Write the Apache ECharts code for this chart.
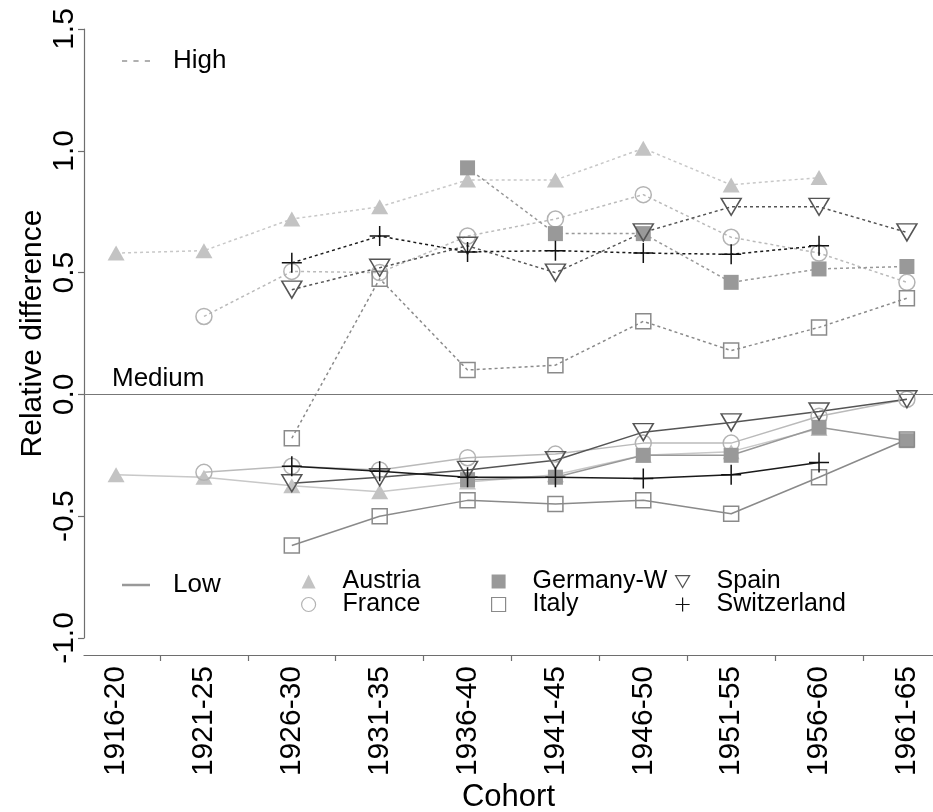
<!DOCTYPE html>
<html>
<head>
<meta charset="utf-8">
<script src="https://cdn.jsdelivr.net/npm/echarts@6/dist/echarts.min.js"></script>
<style>
  html, body { margin: 0; padding: 0; background: #fff; }
  #chart { width: 933px; height: 812px; }
</style>
</head>
<body>
<div id="chart"></div>
<script>
// Birth cohorts (x axis) and y tick values
const cohorts = ['1916-20', '1921-25', '1926-30', '1931-35', '1936-40', '1941-45', '1946-50', '1951-55', '1956-60', '1961-65'];
const yTicks = [-1.0, -0.5, 0.0, 0.5, 1.0, 1.5];

// High education group: relative difference to medium (dotted lines)
const highAustria     = [0.58, 0.59, 0.72, 0.77, 0.88, 0.88, 1.01, 0.86, 0.89, null];
const highFrance      = [null, 0.32, 0.505, 0.50, 0.65, 0.72, 0.82, 0.645, 0.58, 0.46];
const highGermanyW    = [null, null, null, null, 0.93, 0.66, 0.66, 0.46, 0.515, 0.525];
const highItaly       = [null, null, -0.18, 0.475, 0.10, 0.12, 0.30, 0.18, 0.275, 0.395];
const highSpain       = [null, null, 0.43, 0.52, 0.61, 0.50, 0.665, 0.77, 0.77, 0.665];
const highSwitzerland = [null, null, 0.54, 0.65, 0.585, 0.59, 0.58, 0.575, 0.61, null];

// Low education group: relative difference to medium (solid lines)
const lowAustria     = [-0.33, -0.34, -0.375, -0.40, -0.36, -0.33, -0.25, -0.235, -0.14, null];
const lowFrance      = [null, -0.32, -0.295, -0.31, -0.26, -0.245, -0.20, -0.20, -0.09, -0.02];
const lowGermanyW    = [null, null, null, null, -0.35, -0.34, -0.25, -0.25, -0.135, -0.19];
const lowItaly       = [null, null, -0.62, -0.50, -0.435, -0.45, -0.435, -0.49, -0.34, -0.185];
const lowSpain       = [null, null, -0.365, -0.34, -0.31, -0.27, -0.155, -0.115, -0.07, -0.02];
const lowSwitzerland = [null, null, -0.295, -0.315, -0.34, -0.34, -0.345, -0.33, -0.28, null];

const FONT = '"Liberation Sans", Arial, sans-serif';
const AXIS_COLOR = '#6e6e6e';

const downTriangle = 'path://M0,0 L20,0 L10,17 Z';
const plusSign = 'path://M0,10 L20,10 M10,0 L10,20';
const dashedSample = 'path://M0,0 H5 V2 H0 Z M11,0 H16 V2 H11 Z M22,0 H27 V2 H22 Z';
const solidSample = 'path://M0,0 H27 V2.4 H0 Z';

// Marker and line look for each country
const countries = [
  { name: 'Austria', high: highAustria, low: lowAustria,
    symbol: 'triangle', size: [17, 15],
    item: { color: '#c3c3c3', borderWidth: 0 }, line: '#c8c8c8' },
  { name: 'France', high: highFrance, low: lowFrance,
    symbol: 'circle', size: 16,
    item: { color: 'rgba(0,0,0,0)', borderColor: '#b3b3b3', borderWidth: 1.5 }, line: '#bababa' },
  { name: 'Germany-W', high: highGermanyW, low: lowGermanyW,
    symbol: 'rect', size: 15,
    item: { color: '#999999', borderWidth: 0 }, line: '#999999' },
  { name: 'Italy', high: highItaly, low: lowItaly,
    symbol: 'rect', size: 15,
    item: { color: 'rgba(0,0,0,0)', borderColor: '#8a8a8a', borderWidth: 1.5 }, line: '#8a8a8a' },
  { name: 'Spain', high: highSpain, low: lowSpain,
    symbol: downTriangle, size: [20, 17],
    item: { color: 'rgba(0,0,0,0)', borderColor: '#555555', borderWidth: 1.5 }, line: '#555555' },
  { name: 'Switzerland', high: highSwitzerland, low: lowSwitzerland,
    symbol: plusSign, size: 20,
    item: { color: 'rgba(0,0,0,0)', borderColor: '#111111', borderWidth: 1.5 }, line: '#1a1a1a' }
];

function toPoints(values) {
  const pts = [];
  values.forEach((v, i) => { if (v !== null) pts.push([i, v]); });
  return pts;
}

const series = [];
countries.forEach(c => {
  series.push({
    type: 'line', name: c.name, data: toPoints(c.high),
    symbol: c.symbol, symbolSize: c.size, itemStyle: c.item,
    lineStyle: { color: c.line, width: 1.5, type: [3, 3] },
    z: 3
  });
  series.push({
    type: 'line', name: c.name, data: toPoints(c.low),
    symbol: c.symbol, symbolSize: c.size, itemStyle: c.item,
    lineStyle: { color: c.line, width: 1.5, type: 'solid' },
    z: 3
  });
});

// Reference line for the medium group, plus legend-only line samples
series.push({
  type: 'line', name: 'High', data: [], symbol: 'none',
  itemStyle: { color: '#b0b0b0' },
  lineStyle: { color: '#b0b0b0', width: 2, type: [3, 3] },
  markLine: {
    silent: true, symbol: ['none', 'none'], label: { show: false },
    lineStyle: { color: '#777777', width: 1.2, type: 'solid' },
    data: [{ yAxis: 0 }]
  }
});
series.push({
  type: 'line', name: 'Low', data: [], symbol: 'none',
  itemStyle: { color: '#999999' },
  lineStyle: { color: '#999999', width: 2, type: 'solid' }
});

const legendText = { fontSize: 25, fontFamily: FONT, color: '#000' };

function countryLegend(names, left) {
  return {
    orient: 'vertical', left: left, top: 569, padding: 0,
    itemWidth: 14, itemHeight: 14, itemGap: -2, selectedMode: false,
    textStyle: Object.assign({}, legendText, { padding: [0, 0, 0, 22] }),
    data: names.map(n => {
      const c = countries.find(k => k.name === n);
      return { name: n, icon: c.symbol,
        itemStyle: Object.assign({}, c.item, c.item.borderWidth ? { borderWidth: 1.2 } : {}) };
    })
  };
}

function lineLegend(name, icon, color, top) {
  return {
    left: 122, top: top, padding: 0, itemWidth: 28, itemHeight: 14, selectedMode: false,
    textStyle: Object.assign({}, legendText, { fontSize: 26, padding: [0, 0, 0, 18] }),
    data: [{ name: name, icon: icon, itemStyle: { color: color, borderWidth: 0 } }]
  };
}

const chart = echarts.init(document.getElementById('chart'), null, { renderer: 'canvas' });
chart.setOption({
  animation: false,
  backgroundColor: '#ffffff',
  title: {
    text: 'Medium', left: 112, top: 366, padding: 0,
    textStyle: { fontSize: 26, fontWeight: 'normal', fontFamily: FONT, color: '#000' }
  },
  grid: { left: 84, right: 0, top: 29, bottom: 174, containLabel: false, outerBoundsMode: 'none' },
  xAxis: {
    type: 'value', min: -0.365, max: 9.297, offset: 17,
    name: 'Cohort', nameLocation: 'middle', nameGap: 127, nameMoveOverlap: false,
    nameTextStyle: { fontSize: 31, fontFamily: FONT, color: '#000' },
    axisLine: { show: true, onZero: false, lineStyle: { color: AXIS_COLOR, width: 1.2 } },
    axisTick: { show: true, length: 6, lineStyle: { color: AXIS_COLOR, width: 1.2 },
      customValues: cohorts.slice(1).map((_, i) => i + 0.5) },
    axisLabel: { rotate: 90, fontSize: 30, fontFamily: FONT, color: '#000', margin: 11,
      customValues: cohorts.map((_, i) => i),
      formatter: v => cohorts[Math.round(v)] },
    splitLine: { show: false }
  },
  yAxis: {
    type: 'value', min: -1, max: 1.5, interval: 0.5,
    name: 'Relative difference', nameLocation: 'middle', nameGap: 36, nameRotate: 90,
    nameMoveOverlap: false,
    nameTextStyle: { fontSize: 30, fontFamily: FONT, color: '#000' },
    axisLine: { show: true, onZero: false, lineStyle: { color: AXIS_COLOR, width: 1.2 } },
    axisTick: { show: true, length: 6, lineStyle: { color: AXIS_COLOR, width: 1.2 }, customValues: yTicks },
    axisLabel: { rotate: 90, fontSize: 30, fontFamily: FONT, color: '#000', margin: 4,
      customValues: yTicks, formatter: v => v.toFixed(1) },
    splitLine: { show: false }
  },
  legend: [
    lineLegend('High', dashedSample, '#b0b0b0', 48),
    lineLegend('Low', solidSample, '#999999', 572),
    countryLegend(['Austria', 'France'], 301),
    countryLegend(['Germany-W', 'Italy'], 491),
    countryLegend(['Spain', 'Switzerland'], 675)
  ],
  series: series
});
</script>
</body>
</html>
